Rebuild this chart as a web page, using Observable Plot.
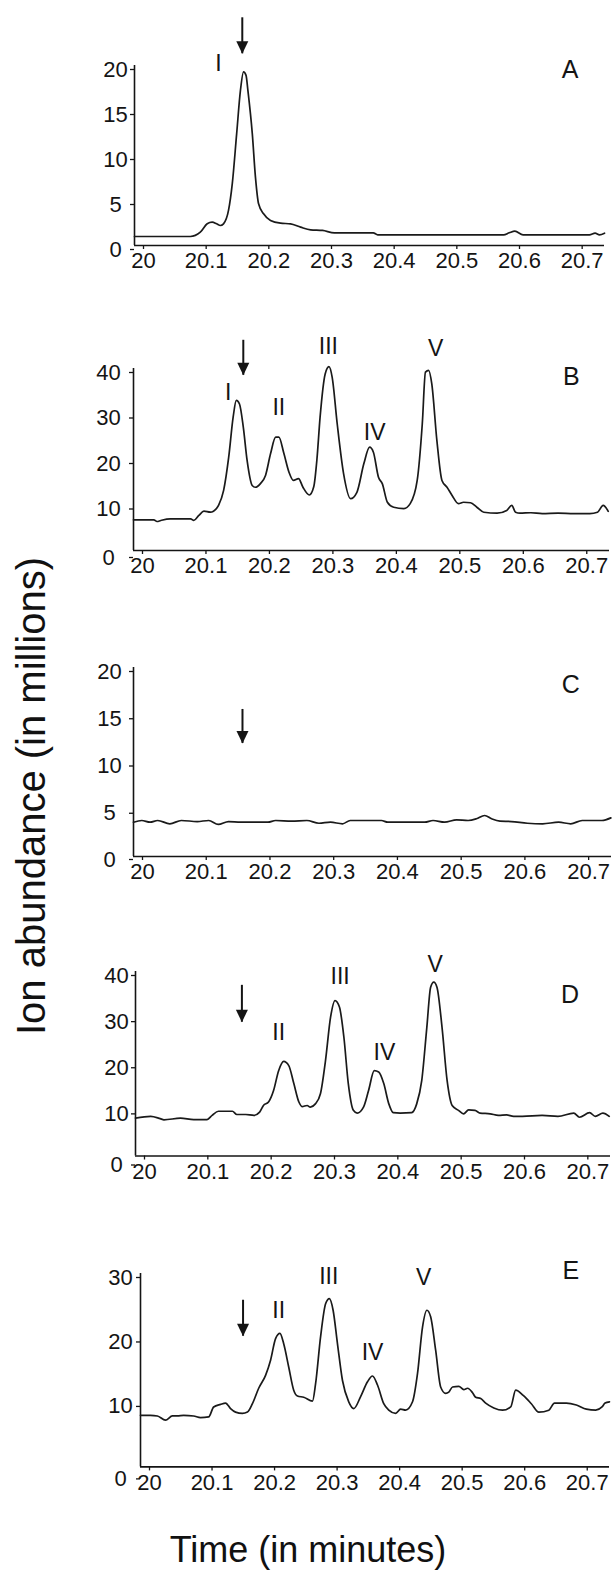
<!DOCTYPE html>
<html>
<head>
<meta charset="utf-8">
<script src="https://cdn.jsdelivr.net/npm/d3@7"></script>
<script src="https://cdn.jsdelivr.net/npm/@observablehq/plot@0.6"></script>
<style>
  body { margin: 0; background: #fff; }
  #fig { position: relative; width: 616px; height: 1575px; font-family: "Liberation Sans", Arial, sans-serif; color: #111; overflow: hidden; }
  #fig svg { position: absolute; left: 0; }
  #ytitle { position: absolute; left: 31px; top: 796px; transform: translate(-50%, -50%) rotate(-90deg);
            font-size: 40px; line-height: 1; white-space: nowrap; z-index: 2; }
  #xtitle { position: absolute; left: 0; width: 616px; top: 1532px; text-align: center;
            font-size: 36px; line-height: 1; white-space: nowrap; z-index: 2; }
</style>
</head>
<body>
<div id="fig">
  <div id="ytitle">Ion abundance (in millions)</div>
  <div id="xtitle">Time (in minutes)</div>
</div>
<script>
// Retention-time axis ticks shared by every trace (minutes)
const timeTicks = [20, 20.1, 20.2, 20.3, 20.4, 20.5, 20.6, 20.7];

// Trace A
const timeA = [20, 20.089, 20.105, 20.116, 20.124, 20.131, 20.137, 20.142, 20.150, 20.156, 20.163, 20.169, 20.174, 20.178, 20.181, 20.188, 20.193, 20.198, 20.206, 20.217, 20.233, 20.249, 20.265, 20.281, 20.300, 20.319, 20.381, 20.388, 20.589, 20.598, 20.607, 20.620, 20.726, 20.735, 20.742, 20.75];
const abundA = [1.0, 1.0, 1.48, 2.41, 2.59, 2.41, 2.22, 2.41, 3.9, 6.85, 12.4, 17.2, 19.3, 18.9, 17.2, 12.4, 7.6, 4.63, 3.52, 2.78, 2.48, 2.41, 2.04, 1.74, 1.67, 1.41, 1.41, 1.19, 1.19, 1.41, 1.59, 1.19, 1.19, 1.37, 1.19, 1.37];

// Trace B
const timeB = [20, 20.032, 20.037, 20.043, 20.058, 20.090, 20.095, 20.103, 20.111, 20.121, 20.126, 20.134, 20.142, 20.150, 20.157, 20.162, 20.167, 20.173, 20.179, 20.187, 20.192, 20.200, 20.208, 20.216, 20.224, 20.229, 20.237, 20.245, 20.252, 20.260, 20.267, 20.277, 20.284, 20.289, 20.294, 20.302, 20.308, 20.313, 20.321, 20.331, 20.342, 20.352, 20.363, 20.372, 20.378, 20.386, 20.392, 20.400, 20.410, 20.426, 20.436, 20.447, 20.455, 20.460, 20.465, 20.470, 20.478, 20.486, 20.494, 20.502, 20.512, 20.520, 20.531, 20.541, 20.552, 20.573, 20.588, 20.596, 20.602, 20.609, 20.626, 20.644, 20.669, 20.694, 20.719, 20.731, 20.740, 20.748];
const abundB = [6.75, 6.75, 6.37, 6.6, 6.96, 6.96, 6.6, 7.7, 8.64, 8.42, 8.64, 9.9, 13.2, 20.5, 29.3, 33.0, 32.2, 27.1, 19.8, 14.3, 13.9, 14.7, 16.5, 21.3, 24.9, 24.9, 21.3, 17.2, 15.4, 15.8, 13.9, 12.2, 14.0, 20.0, 29.3, 38.8, 40.4, 38.1, 27.8, 16.9, 11.4, 12.8, 19.1, 22.7, 21.6, 16.1, 14.7, 10.6, 9.5, 9.2, 10.3, 15.4, 27.8, 39.2, 39.6, 36.6, 24.2, 15.4, 13.9, 12.1, 10.3, 10.6, 10.5, 9.5, 8.4, 8.2, 8.8, 9.9, 8.4, 8.2, 8.3, 8.1, 8.2, 8.1, 8.1, 8.4, 9.9, 8.6];

// Trace C
const timeC = [20, 20.013, 20.026, 20.038, 20.057, 20.075, 20.100, 20.118, 20.133, 20.149, 20.168, 20.211, 20.223, 20.248, 20.272, 20.291, 20.309, 20.328, 20.340, 20.389, 20.399, 20.457, 20.470, 20.488, 20.507, 20.525, 20.538, 20.551, 20.562, 20.575, 20.593, 20.618, 20.642, 20.667, 20.686, 20.704, 20.735, 20.749];
const abundC = [3.63, 3.81, 3.63, 3.81, 3.46, 3.81, 3.70, 3.81, 3.39, 3.70, 3.63, 3.63, 3.81, 3.74, 3.81, 3.52, 3.63, 3.46, 3.81, 3.81, 3.63, 3.63, 3.81, 3.63, 3.88, 3.81, 3.99, 4.34, 3.99, 3.74, 3.70, 3.52, 3.46, 3.63, 3.46, 3.81, 3.81, 4.09];

// Trace D
const timeD = [20, 20.024, 20.039, 20.045, 20.071, 20.092, 20.113, 20.121, 20.131, 20.153, 20.160, 20.174, 20.187, 20.196, 20.202, 20.210, 20.218, 20.226, 20.234, 20.242, 20.250, 20.258, 20.263, 20.271, 20.276, 20.284, 20.292, 20.300, 20.308, 20.315, 20.322, 20.329, 20.336, 20.344, 20.350, 20.360, 20.368, 20.377, 20.384, 20.392, 20.400, 20.407, 20.418, 20.436, 20.444, 20.452, 20.460, 20.466, 20.471, 20.476, 20.484, 20.492, 20.500, 20.510, 20.518, 20.526, 20.536, 20.544, 20.560, 20.573, 20.586, 20.597, 20.611, 20.642, 20.667, 20.692, 20.701, 20.717, 20.726, 20.738, 20.748];
const abundD = [8.2, 8.6, 8.1, 7.85, 8.2, 7.9, 7.9, 8.8, 9.7, 9.7, 9.0, 9.0, 8.8, 9.5, 10.95, 11.7, 14.2, 18.5, 20.5, 19.6, 15.7, 11.7, 10.7, 10.95, 10.6, 11.3, 13.5, 20.7, 30.1, 33.7, 32.3, 25.8, 15.7, 9.9, 9.3, 10.6, 14.2, 18.5, 18.2, 15.7, 11.3, 9.4, 9.3, 9.4, 11.3, 16.4, 27.9, 36.6, 37.7, 36.6, 27.9, 16.4, 10.95, 9.9, 9.15, 10.0, 9.9, 9.3, 9.15, 8.8, 8.9, 8.6, 8.6, 8.8, 8.6, 9.3, 8.4, 9.4, 8.6, 9.3, 8.6];

// Trace E
const timeE = [20, 20.016, 20.027, 20.040, 20.051, 20.059, 20.069, 20.085, 20.096, 20.109, 20.117, 20.128, 20.136, 20.144, 20.152, 20.163, 20.171, 20.179, 20.189, 20.200, 20.208, 20.216, 20.223, 20.229, 20.237, 20.245, 20.251, 20.261, 20.275, 20.280, 20.288, 20.296, 20.302, 20.308, 20.315, 20.323, 20.333, 20.341, 20.352, 20.363, 20.371, 20.379, 20.389, 20.397, 20.408, 20.416, 20.424, 20.435, 20.443, 20.451, 20.458, 20.464, 20.472, 20.480, 20.488, 20.493, 20.499, 20.509, 20.517, 20.523, 20.531, 20.536, 20.544, 20.552, 20.565, 20.579, 20.592, 20.600, 20.612, 20.625, 20.637, 20.653, 20.662, 20.681, 20.697, 20.713, 20.728, 20.738, 20.743, 20.750];
const abundE = [8.0, 8.0, 7.9, 7.25, 7.9, 7.9, 8.0, 7.9, 7.65, 7.75, 9.3, 9.7, 9.9, 9.05, 8.5, 8.3, 8.5, 9.8, 12.2, 14.2, 16.55, 19.9, 20.7, 19.1, 15.5, 11.9, 11.0, 10.8, 10.2, 12.9, 20.2, 25.3, 26.1, 24.3, 19.1, 13.4, 10.1, 9.05, 10.9, 13.2, 14.1, 12.7, 9.8, 8.8, 8.3, 8.95, 8.8, 10.1, 14.5, 21.7, 24.3, 23.3, 18.1, 12.4, 11.4, 11.6, 12.4, 12.5, 12.0, 12.2, 11.5, 10.8, 10.6, 9.9, 9.15, 8.8, 9.3, 11.9, 11.1, 9.8, 8.5, 8.8, 9.9, 9.9, 9.6, 8.95, 8.8, 9.3, 9.9, 10.1];

// Abundance axis ticks (millions)
const ticksA = [0, 5, 10, 15, 20];
const ticksB = [0, 10, 20, 30, 40];
const ticksC = [0, 5, 10, 15, 20];
const ticksD = [0, 10, 20, 30, 40];
const ticksE = [0, 10, 20, 30];

// Peak annotations: roman numeral, time, abundance where the label sits
const peaksA = {name: ["I"], time: [20.134], level: [20.2]};
const peaksB = {name: ["I", "II", "III", "IV", "V"], time: [20.149, 20.229, 20.307, 20.380, 20.476], level: [34.6, 31.3, 44.7, 26.0, 44.3]};
const peaksC = {name: [], time: [], level: []};
const peaksD = {name: ["II", "III", "IV", "V"], time: [20.226, 20.323, 20.393, 20.473], level: [26.7, 38.8, 22.5, 41.5]};
const peaksE = {name: ["II", "III", "IV", "V"], time: [20.221, 20.301, 20.371, 20.453], level: [24.3, 29.5, 17.7, 29.3]};

// Marker arrow at the expected elution time: tip and tail abundance per trace
const arrowTime = [20.172, 20.173, 20.171, 20.168, 20.164];
const arrowTip = [21.3, 38.5, 11.96, 29.0, 20.27];
const arrowTail = [25.3, 46.2, 15.56, 37.0, 25.85];

const panelNames = ["A", "B", "C", "D", "E"];
const letterTime = [20.695, 20.690, 20.686, 20.686, 20.688];
const letterLevel = [19.5, 38.2, 18.1, 34.8, 30.4];

// Frame geometry of each trace on the page (pixels)
const frames = [
  {left: 134, right: 604, zero: 245, top: 65, labelOffset: 19, zeroDy: 4},
  {left: 133, right: 609, zero: 550, top: 368, labelOffset: 25, zeroDy: 7},
  {left: 133, right: 611, zero: 856, top: 667, labelOffset: 24, zeroDy: 3},
  {left: 135, right: 610, zero: 1155.5, top: 971, labelOffset: 19, zeroDy: 9},
  {left: 140, right: 609, zero: 1466.7, top: 1273.3, labelOffset: 20, zeroDy: 12}
];

const series = [[timeA, abundA], [timeB, abundB], [timeC, abundC], [timeD, abundD], [timeE, abundE]];
const yTicks = [ticksA, ticksB, ticksC, ticksD, ticksE];
const peaks = [peaksA, peaksB, peaksC, peaksD, peaksE];

// Filled downward arrowhead with its tip at the anchor point
const arrowHead = {
  draw(context, size) {
    const r = Math.sqrt(size / Math.PI);
    context.moveTo(0, 0);
    context.lineTo(-r, -2.1 * r);
    context.lineTo(r, -2.1 * r);
    context.closePath();
  }
};

const ink = "#141414";
const font = "'Liberation Sans Narrow', 'Arial Narrow', 'Liberation Sans', Arial, sans-serif";
const letterFont = "'Liberation Sans', Arial, sans-serif";
const fig = document.getElementById("fig");

series.forEach(([time, abund], i) => {
  const f = frames[i];
  const mt = 60, mb = 42;
  const height = Math.round(mt + (f.zero - f.top) + mb);
  const points = time.map((t, j) => ({t, v: abund[j]}));
  const ticks = yTicks[i];
  const ymax = ticks[ticks.length - 1];
  const pk = peaks[i];
  const peakRows = pk.name.map((n, j) => ({n, t: pk.time[j], v: pk.level[j]}));

  const chart = Plot.plot({
    width: 616,
    height,
    marginLeft: f.left,
    marginRight: 616 - f.right,
    marginTop: mt,
    marginBottom: height - mt - (f.zero - f.top),
    x: {domain: [20, 20.75], label: null},
    y: {domain: [0, ymax], label: null},
    style: {background: "transparent", fontFamily: font, fontSize: "22px", color: ink, overflow: "visible"},
    marks: [
      Plot.axisX({ticks: timeTicks, tickSize: 4, tickPadding: 3, dx: 9, tickFormat: d => String(d),
                  stroke: ink, strokeWidth: 1.3, fontSize: 22, label: null}),
      Plot.axisY({ticks: ticks.filter(d => d !== 0), tickSize: 4, tickPadding: f.labelOffset - 4,
                  textAnchor: "middle", dy: 4, stroke: ink, strokeWidth: 1.3, fontSize: 22, label: null}),
      Plot.axisY({ticks: [0], tickSize: 4, tickPadding: f.labelOffset - 4,
                  textAnchor: "middle", dy: f.zeroDy, stroke: ink, strokeWidth: 1.3, fontSize: 22, label: null}),
      Plot.ruleX([20], {stroke: ink, strokeWidth: 1.6}),
      Plot.ruleY([0], {stroke: ink, strokeWidth: 1.6}),
      Plot.line(points, {x: "t", y: "v", stroke: "#1a1a1a", strokeWidth: 1.7, curve: "monotone-x"}),
      Plot.ruleX([{t: arrowTime[i], y1: arrowTip[i], y2: arrowTail[i]}],
                 {x: "t", y1: "y1", y2: "y2", stroke: ink, strokeWidth: 2}),
      Plot.dot([{t: arrowTime[i], v: arrowTip[i]}], {x: "t", y: "v", r: 6, symbol: arrowHead, fill: ink, stroke: "none"}),
      Plot.text(peakRows, {x: "t", y: "v", text: "n", fontSize: 23, fill: ink}),
      Plot.text([{t: letterTime[i], v: letterLevel[i], n: panelNames[i]}],
                {x: "t", y: "v", text: "n", fontSize: 25, fontFamily: letterFont, fill: ink})
    ]
  });
  chart.style.top = (f.top - mt) + "px";
  fig.appendChild(chart);
});
</script>
</body>
</html>
